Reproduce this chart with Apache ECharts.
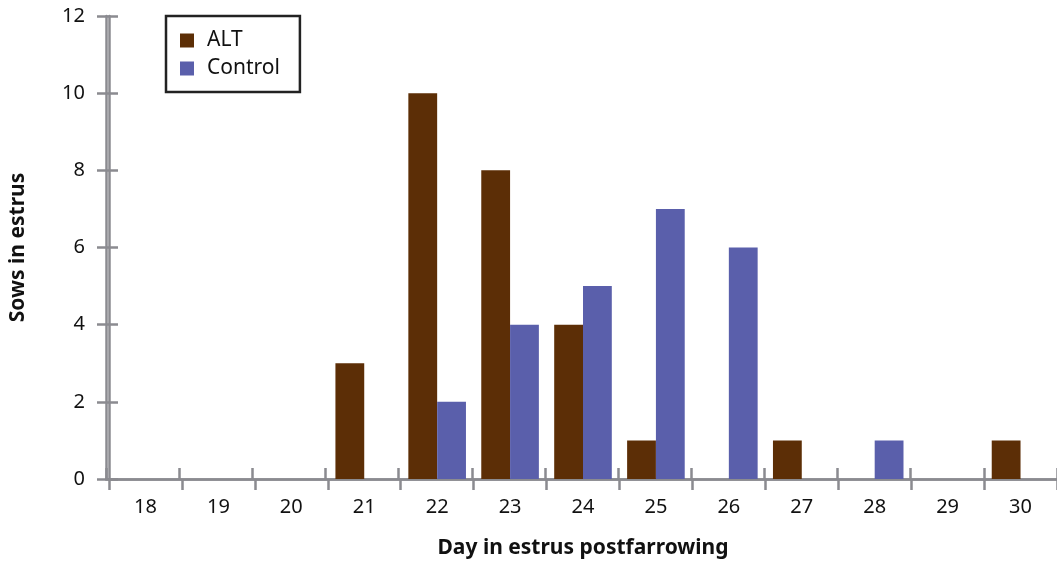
<!DOCTYPE html>
<html>
<head>
<meta charset="utf-8">
<script src="https://cdn.jsdelivr.net/npm/echarts@6/dist/echarts.min.js"></script>
<style>html,body{margin:0;padding:0;background:#fff}#c{width:1057px;height:564px}</style>
</head>
<body>
<div id="c"></div>
<script>
const categories = ['18','19','20','21','22','23','24','25','26','27','28','29','30'];
const altValues = [0,0,0,3,10,8,4,1,0,1,0,0,1];
const controlValues = [0,0,0,0,2,4,5,7,6,0,1,0,0];
const yTicks = [0,2,4,6,8,10,12];

const FONT = '"Noto Sans", "Open Sans", sans-serif';
const AX = '#8b8b90';
const chart = echarts.init(document.getElementById('c'));
const gridBox = {left: 106, right: 0, top: 16, bottom: 85, containLabel: false};
function xAx(idx, inside, extra) {
  return Object.assign({
    type: 'category', data: categories, position: 'bottom', gridIndex: idx,
    axisLine: {show: true, lineStyle: {color: AX, width: 2.5}},
    axisTick: {show: true, inside: inside, length: 11, lineStyle: {color: AX, width: 2.5}},
    splitLine: {show: false}
  }, extra);
}
function yAx(idx, inside, extra) {
  return Object.assign({
    type: 'value', min: 0, max: 12, interval: 2, position: 'left', gridIndex: idx,
    axisLine: {show: true, lineStyle: {color: AX, width: 2.5}},
    axisTick: {show: true, inside: inside, length: 12, lineStyle: {color: AX, width: 2.5}},
    splitLine: {show: false}
  }, extra);
}
chart.setOption({
  animation: false,
  textStyle: {fontFamily: FONT},
  grid: [gridBox, Object.assign({}, gridBox)],
  legend: {
    orient: 'vertical', left: 166, top: 16,
    data: ['ALT', 'Control'],
    icon: 'rect', itemWidth: 14, itemHeight: 14, itemGap: 7,
    borderColor: '#222', borderWidth: 2.5, padding: [14, 20, 13, 14],
    textStyle: {fontSize: 21, color: '#111', fontFamily: FONT, padding: [0, 0, 0, 8]}
  },
  xAxis: [
    xAx(0, false, {
      name: 'Day in estrus postfarrowing', nameLocation: 'middle', nameGap: 59,
      nameTextStyle: {fontSize: 21, fontWeight: 'bold', color: '#111', fontFamily: FONT},
      axisLabel: {fontSize: 20, color: '#111', margin: 18, fontFamily: FONT}
    }),
    xAx(1, true, {axisLabel: {show: false}})
  ],
  yAxis: [
    yAx(0, false, {
      name: 'Sows in estrus', nameLocation: 'middle', nameGap: 80, nameRotate: 90,
      nameTextStyle: {fontSize: 21, fontWeight: 'bold', color: '#111', fontFamily: FONT},
      axisLabel: {fontSize: 20, color: '#111', margin: 24, fontFamily: FONT, customValues: yTicks}
    }),
    yAx(1, true, {axisLabel: {show: false}})
  ],
  series: [
    {name: 'ALT', type: 'bar', data: altValues, xAxisIndex: 0, yAxisIndex: 0,
     barGap: '0%', barCategoryGap: '21%', itemStyle: {color: '#5c2e06'}},
    {name: 'Control', type: 'bar', data: controlValues, xAxisIndex: 0, yAxisIndex: 0,
     barGap: '0%', barCategoryGap: '21%', itemStyle: {color: '#5a5fab'}}
  ]
});
</script>
</body>
</html>
